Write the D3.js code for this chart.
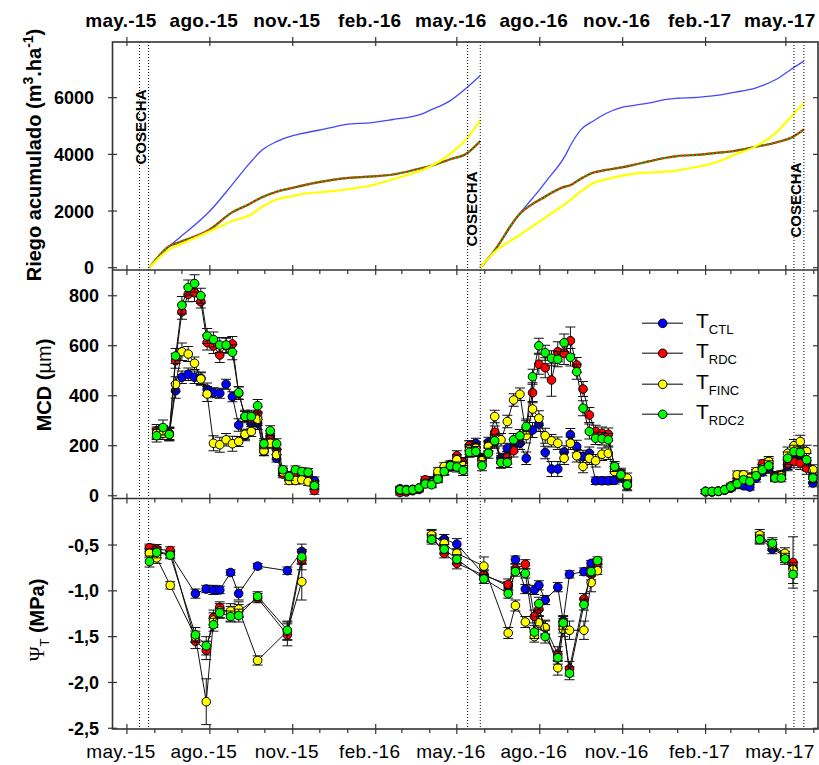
<!DOCTYPE html>
<html><head><meta charset="utf-8">
<script src="https://cdn.jsdelivr.net/npm/d3@7"></script>
<style>body{margin:0;background:#fff}svg{display:block;font-family:Arial,"Liberation Sans",sans-serif}</style>
</head><body><svg id="c" width="819" height="765"></svg>
<script>
// ---------------- DATA ----------------
const seriesNames = ["CTL","RDC","FINC","RDC2"];
const seriesColors = ["#0000ff","#ff0000","#ffff00","#00ff00"];
const monthTickLabels = ["may.-15","ago.-15","nov.-15","feb.-16","may.-16","ago.-16","nov.-16","feb.-17","may.-17"];
const riegoTicks = [0,2000,4000,6000];
const mcdTicks = [0,200,400,600,800];
const psiTicks = [-0.5,-1.0,-1.5,-2.0,-2.5];
const harvestDates = [["2015-05-15","2015-05-25"],["2016-05-13","2016-05-27"],["2017-05-10","2017-05-21"]];
const harvestLabel = "COSECHA";

// cumulative irrigation (m3/ha)
const riegoDates = ["2015-05-26","2015-06-17","2015-06-28","2015-08-01","2015-08-26","2015-09-14","2015-09-28","2015-10-14","2015-11-01","2015-11-09","2015-12-15","2015-12-30","2016-01-28","2016-02-20","2016-03-21","2016-04-01","2016-04-23","2016-05-12","2016-05-27",
"2016-05-27","2016-06-10","2016-07-11","2016-07-24","2016-08-04","2016-08-08","2016-08-30","2016-09-03","2016-09-16","2016-09-29","2016-10-14","2016-10-29","2016-11-12","2016-12-01","2016-12-19","2016-12-27","2016-12-31","2017-01-26","2017-01-29","2017-02-13","2017-03-03","2017-03-29","2017-04-20","2017-05-09","2017-05-21"];
const riegoCTL = [0,760,1050,2000,2940,3680,4150,4450,4660,4720,4950,5060,5120,5230,5400,5550,5880,6350,6780,
0,530,1960,2450,2880,3050,4000,4250,4880,5170,5450,5640,5720,5820,5940,5970,5980,6020,6030,6080,6180,6350,6640,7050,7290];
const riegoRDC = [0,760,900,1350,1960,2250,2490,2680,2820,2880,3100,3160,3220,3290,3500,3580,3820,4030,4470,
0,530,1940,2250,2450,2530,2870,2900,3150,3350,3450,3530,3620,3760,3880,3920,3940,3990,4000,4050,4110,4270,4420,4620,4880];
const riegoFINC = [0,645,800,1290,1650,1845,2150,2410,2530,2590,2700,2760,2910,3120,3410,3560,4000,4550,5200,
0,500,1180,1470,1700,1790,2270,2370,2700,2980,3120,3230,3310,3360,3390,3410,3430,3580,3600,3720,3960,4290,4760,5410,5800];
const riegoRDC2 = [0,760,900,1350,1960,2250,2490,2680,2820,2880,3100,3160,3220,3290,3500,3580,3820,4030,4470,
0,530,1940,2250,2450,2530,2870,2900,3150,3350,3450,3530,3620,3760,3880,3920,3940,3990,4000,4050,4110,4270,4420,4620,4880];

// MCD (µm), weekly
const mcdDates = ["2015-06-03","2015-06-10","2015-06-17","2015-06-24","2015-07-01","2015-07-08","2015-07-15","2015-07-22","2015-07-29","2015-08-05","2015-08-12","2015-08-19","2015-08-26","2015-09-02","2015-09-09","2015-09-16","2015-09-23","2015-09-30","2015-10-07","2015-10-14","2015-10-21","2015-10-28","2015-11-04","2015-11-11","2015-11-18","2015-11-25",
"2016-02-28","2016-03-06","2016-03-13","2016-03-20","2016-03-27","2016-04-03","2016-04-10","2016-04-17","2016-04-24","2016-05-01","2016-05-08","2016-05-15","2016-05-22","2016-05-29","2016-06-05","2016-06-12","2016-06-19","2016-06-26","2016-07-03","2016-07-10","2016-07-17","2016-07-24","2016-07-31","2016-08-07","2016-08-14","2016-08-21","2016-08-28","2016-09-04","2016-09-11","2016-09-18","2016-09-25","2016-10-02","2016-10-09","2016-10-16","2016-10-23","2016-10-30","2016-11-06",
"2017-02-01","2017-02-08","2017-02-15","2017-02-22","2017-03-01","2017-03-08","2017-03-15","2017-03-22","2017-03-29","2017-04-05","2017-04-12","2017-04-19","2017-04-26","2017-05-03","2017-05-10","2017-05-17","2017-05-24","2017-05-31"];
const mcdCTL = [250,255,248,420,474,486,474,470,426,412,410,446,396,283,240,290,290,177,240,150,95,75,88,80,71,60,
28,25,26,30,55,60,70,100,115,130,110,200,210,150,214,215,150,190,200,210,150,263,287,173,107,107,175,244,197,157,170,60,60,60,62,71,55,
15,15,17,22,30,45,40,35,70,95,110,75,80,120,150,165,120,51];
const mcdRDC = [260,260,250,540,736,806,812,776,613,599,563,600,607,410,317,310,330,200,230,184,87,80,81,85,80,21,
13,15,20,25,64,50,75,100,125,160,133,200,195,144,200,254,135,152,180,235,270,412,526,512,463,576,570,620,523,427,323,257,250,246,110,90,40,
17,16,18,24,35,60,70,75,90,128,130,80,85,130,137,130,111,75];
const mcdFINC = [250,250,245,446,576,567,530,467,407,210,204,224,208,217,246,257,306,180,210,164,95,61,61,64,56,45,
22,22,24,30,50,50,97,117,120,144,120,185,190,140,197,317,224,297,383,406,241,347,310,240,220,210,150,210,160,117,150,140,166,170,97,80,71,
18,17,19,25,40,84,84,70,97,110,137,75,80,170,200,217,177,104];
const mcdRDC2 = [240,273,245,559,762,833,849,800,639,625,603,603,574,412,317,317,360,208,260,208,104,77,104,97,94,40,
24,22,24,31,47,44,67,97,120,115,101,174,177,120,170,220,133,133,224,240,277,476,600,572,550,546,612,554,496,350,257,230,228,224,117,84,44,
17,17,18,24,35,48,64,57,80,104,120,71,71,150,177,173,144,71];
const mcdErrCTL = [20,20,25,30,25,25,25,25,25,20,20,20,20,25,20,20,25,15,20,15,15,15,15,15,15,15,
10,10,10,10,12,12,15,15,15,20,20,20,20,20,20,25,20,20,25,25,25,30,30,25,30,30,25,25,25,25,25,15,15,15,15,15,15,
8,8,8,8,10,12,12,12,15,15,20,15,15,20,20,25,20,15];
const mcdErrRDC = [25,20,25,30,30,30,35,25,30,30,30,30,30,25,20,25,25,20,20,20,15,15,15,15,15,15,
10,10,10,10,12,12,15,15,15,20,20,20,20,20,20,25,25,25,25,30,30,40,40,40,65,40,45,55,30,30,30,25,25,25,20,20,20,
8,8,8,8,10,12,12,12,15,15,20,15,15,25,25,25,25,20];
const mcdErrFINC = [25,25,25,30,35,30,25,25,30,30,30,25,30,20,20,20,25,20,20,20,15,15,15,15,15,15,
10,10,10,10,12,15,15,15,15,20,20,20,20,20,20,25,25,25,25,25,30,30,30,30,25,25,25,25,25,25,25,25,25,25,20,20,20,
8,8,8,8,10,15,15,12,15,15,20,15,15,25,25,25,25,20];
const mcdErrRDC2 = [25,30,25,30,35,30,35,30,30,30,30,30,30,25,25,25,25,20,20,20,15,15,15,15,15,15,
10,10,10,10,12,12,15,15,15,20,20,20,20,20,20,25,20,20,25,25,30,30,30,30,30,30,35,35,30,30,30,25,25,25,20,20,20,
8,8,8,8,10,12,12,12,15,15,20,15,15,25,25,25,25,20];

// Trunk water potential (MPa)
const psiDates = ["2015-05-26","2015-06-03","2015-06-18","2015-07-16","2015-07-28","2015-08-05","2015-08-12","2015-08-24","2015-09-02","2015-09-23","2015-10-26","2015-11-11",
"2016-04-03","2016-04-17","2016-05-01","2016-05-31","2016-06-27","2016-07-05","2016-07-16","2016-07-26","2016-07-31","2016-08-07","2016-08-21","2016-08-27","2016-09-03","2016-09-19","2016-09-27","2016-10-04",
"2017-04-02","2017-04-16","2017-04-30","2017-05-09"];
const psiCTL = [-0.55,-0.57,-0.60,-1.03,-0.98,-0.99,-0.99,-0.80,-1.03,-0.73,-0.78,-0.57,
-0.42,-0.435,-0.49,-0.82,-0.95,-0.66,-0.98,-0.99,-0.94,-1.10,-0.96,-1.33,-0.82,-0.79,-0.70,-0.68,
-0.42,-0.545,-0.62,-0.75];
const psiRDC = [-0.53,-0.545,-0.56,-1.55,-1.65,-1.29,-1.18,-1.25,-1.22,-1.08,-1.48,-0.67,
-0.40,-0.59,-0.70,-0.83,-0.93,-0.76,-0.71,-1.28,-1.20,-1.40,-1.69,-1.38,-1.85,-1.09,-0.82,-0.70,
-0.42,-0.50,-0.63,-0.69];
const psiFINC = [-0.59,-0.64,-0.94,-1.50,-2.21,-1.32,-1.22,-1.22,-1.20,-1.76,-1.44,-0.90,
-0.39,-0.48,-0.59,-0.73,-1.46,-1.16,-1.34,-1.50,-1.35,-1.40,-1.84,-1.42,-1.43,-1.43,-0.91,-0.78,
-0.39,-0.50,-0.59,-0.77];
const psiRDC2 = [-0.68,-0.58,-0.61,-1.48,-1.60,-1.37,-1.24,-1.28,-1.27,-1.06,-1.43,-0.63,
-0.44,-0.545,-0.655,-0.87,-1.03,-0.79,-0.81,-1.45,-1.14,-1.50,-1.73,-1.35,-1.90,-1.15,-0.79,-0.67,
-0.44,-0.48,-0.65,-0.82];
const psiErrCTL = [0.04,0.04,0.04,0.05,0.04,0.05,0.04,0.03,0.07,0.03,0.04,0.08,
0.05,0.05,0.06,0.05,0.05,0.04,0.05,0.05,0.05,0.05,0.05,0.06,0.04,0.04,0.03,0.03,
0.05,0.05,0.05,0.06];
const psiErrRDC = [0.04,0.05,0.04,0.08,0.10,0.08,0.06,0.08,0.07,0.05,0.12,0.10,
0.06,0.05,0.06,0.05,0.06,0.05,0.05,0.07,0.07,0.08,0.08,0.08,0.08,0.06,0.06,0.04,
0.06,0.06,0.06,0.28];
const psiErrFINC = [0.05,0.06,0.04,0.06,0.25,0.08,0.08,0.08,0.08,0.05,0.10,0.20,
0.06,0.06,0.05,0.10,0.06,0.06,0.06,0.06,0.07,0.07,0.08,0.08,0.10,0.10,0.10,0.04,
0.06,0.06,0.06,0.08];
const psiErrRDC2 = [0.06,0.06,0.04,0.08,0.10,0.07,0.05,0.06,0.07,0.05,0.10,0.08,
0.05,0.05,0.05,0.05,0.05,0.05,0.05,0.07,0.07,0.07,0.07,0.07,0.07,0.06,0.05,0.04,
0.05,0.06,0.06,0.10];

// ---------------- DRAWING ----------------
const svg = d3.select("#c");
const parse = d3.timeParse("%Y-%m-%d");
const L = 112.5, R = 818, T1 = 42, B1 = 270, B2 = 498.5, B3 = 729;
const x = d3.scaleTime().domain([new Date(2015,3,15), new Date(2017,5,5,16)]).range([L, R]);
const y1 = d3.scaleLinear().domain([-81, 7965]).range([B1, T1]);
const y2 = d3.scaleLinear().domain([-11, 903]).range([B2, B1]);
const y3 = d3.scaleLinear().domain([-2.508, 0.008]).range([B3, B2]);
const AX = "#333";

function splitSeg(pts, brk){ const segs=[]; let cur=[]; pts.forEach((p,i)=>{ if(i>0 && brk(pts[i-1],p)){ segs.push(cur); cur=[]; } cur.push(p); }); if(cur.length) segs.push(cur); return segs; }

// ---- top panel irrigation lines
const gTop = svg.append("g");
const topSeries = [
  {v:riegoCTL, c:"#4646ff", w:1.3, dash:null},
  {v:riegoRDC, c:"#ff0000", w:2.2, dash:null},
  {v:riegoRDC2, c:"#00c800", w:2.2, dash:"2,2"},
  {v:riegoFINC, c:"#ffff00", w:2.2, dash:null}
];
topSeries.forEach(s=>{
  const pts = riegoDates.map((d,i)=>({d:parse(d), v:s.v[i]}));
  const segs = splitSeg(pts,(a,b)=> b.v < a.v);
  const line = d3.line().x(p=>x(p.d)).y(p=>y1(p.v)).curve(d3.curveMonotoneX);
  segs.forEach(sg=> gTop.append("path").attr("d", line(sg)).attr("fill","none")
     .attr("stroke", s.c).attr("stroke-width", s.w).attr("stroke-dasharray", s.dash));
});

// ---- harvest dotted lines
harvestDates.forEach(pair=> pair.forEach(d=>{
  svg.append("line").attr("x1",x(parse(d))).attr("x2",x(parse(d))).attr("y1",T1).attr("y2",B3)
    .attr("stroke","#000").attr("stroke-width",1).attr("stroke-dasharray","1,2");
}));
const cosechaY = [127, 209, 200];
harvestDates.forEach((pair,i)=>{
  const xx = x(parse(pair[1])) - 3;
  svg.append("text").attr("transform",`translate(${xx},${cosechaY[i]}) rotate(-90)`)
    .attr("text-anchor","middle").attr("font-size",15).attr("font-weight","bold").text(harvestLabel);
});

// ---- series with markers & error bars
function drawSeries(g, dates, vals, errs, yS, color){
  const pts = dates.map((d,i)=>({d:parse(d), v:vals[i], e:errs[i]}));
  const segs = splitSeg(pts,(a,b)=> (b.d-a.d) > 45*864e5);
  const line = d3.line().x(p=>x(p.d)).y(p=>yS(p.v));
  segs.forEach(sg=> g.append("path").attr("d",line(sg)).attr("fill","none").attr("stroke","#111").attr("stroke-width",1));
  const eb = g.append("g").attr("stroke","#111").attr("stroke-width",1);
  pts.forEach(p=>{
    const cx = x(p.d), ya = yS(p.v+p.e), yb = yS(p.v-p.e);
    eb.append("line").attr("x1",cx).attr("x2",cx).attr("y1",ya).attr("y2",yb);
    eb.append("line").attr("x1",cx-5).attr("x2",cx+5).attr("y1",ya).attr("y2",ya);
    eb.append("line").attr("x1",cx-5).attr("x2",cx+5).attr("y1",yb).attr("y2",yb);
  });
  g.append("g").selectAll("circle").data(pts).join("circle")
    .attr("cx",p=>x(p.d)).attr("cy",p=>yS(p.v)).attr("r",4.3)
    .attr("fill",color).attr("stroke","#000").attr("stroke-width",1);
}
const gMcd = svg.append("g");
[[mcdCTL,mcdErrCTL],[mcdRDC,mcdErrRDC],[mcdFINC,mcdErrFINC],[mcdRDC2,mcdErrRDC2]].forEach((s,i)=>
  drawSeries(gMcd, mcdDates, s[0], s[1], y2, seriesColors[i]));
const gPsi = svg.append("g");
[[psiCTL,psiErrCTL],[psiRDC,psiErrRDC],[psiFINC,psiErrFINC],[psiRDC2,psiErrRDC2]].forEach((s,i)=>
  drawSeries(gPsi, psiDates, s[0], s[1], y3, seriesColors[i]));

// ---- frame
const fr = svg.append("g").attr("stroke",AX).attr("stroke-width",1.6).attr("fill","none");
fr.append("rect").attr("x",L).attr("y",T1).attr("width",R-L).attr("height",B3-T1);
fr.append("line").attr("x1",L).attr("x2",R).attr("y1",B1).attr("y2",B1);
fr.append("line").attr("x1",L).attr("x2",R).attr("y1",B2).attr("y2",B2);

// ---- x ticks
const months = d3.timeMonth.range(new Date(2015,4,1), new Date(2017,5,2));
const quarters = months.filter(m=> ((m.getMonth()-4)%3+3)%3===0);
const tk = svg.append("g").attr("stroke",AX).attr("stroke-width",1.2);
quarters.forEach(m=> tk.append("line").attr("x1",x(m)).attr("x2",x(m)).attr("y1",T1-5).attr("y2",T1+4));
[B1,B2,B3].forEach(yy=>{
  months.forEach(m=>{
    const major = quarters.some(q=>+q===+m);
    tk.append("line").attr("x1",x(m)).attr("x2",x(m)).attr("y1", major? yy-5 : yy).attr("y2", major? yy+5 : yy+4);
  });
});
quarters.forEach((m,i)=>{
  svg.append("text").attr("x",x(m)-6).attr("y",27).attr("text-anchor","middle")
    .attr("font-size",19).attr("font-weight","bold").attr("letter-spacing",0.3).text(monthTickLabels[i]);
  svg.append("text").attr("x",x(m)-6).attr("y",758).attr("text-anchor","middle")
    .attr("font-size",19).attr("letter-spacing",0.3).text(monthTickLabels[i]);
});

// ---- y ticks
function yTicks(vals, yS, lx, fmt){
  vals.forEach(v=>{
    const yy = yS(v);
    tk.append("line").attr("x1",L-4.5).attr("x2",L+4.5).attr("y1",yy).attr("y2",yy);
    tk.append("line").attr("x1",R-5).attr("x2",R).attr("y1",yy).attr("y2",yy);
    svg.append("text").attr("x",lx).attr("y",yy).attr("dy","0.36em").attr("text-anchor","end")
      .attr("font-size",18).attr("font-weight","bold").text(fmt(v));
  });
}
yTicks(riegoTicks, y1, 94, v=>String(v));
yTicks(mcdTicks, y2, 99, v=>String(v));
yTicks(psiTicks, y3, 99, v=>d3.format(".1f")(v).replace(".",",").replace("−","-"));

// ---- y titles
const t1 = svg.append("text").attr("transform","translate(41,155) rotate(-90)").attr("text-anchor","middle")
  .attr("font-size",20).attr("font-weight","bold");
t1.append("tspan").text("Riego acumulado (m");
t1.append("tspan").attr("dy",-8).attr("font-size",14).text("3");
t1.append("tspan").attr("dy",8).text(".ha");
t1.append("tspan").attr("dy",-8).attr("font-size",14).text("-1");
t1.append("tspan").attr("dy",8).text(")");

const t2 = svg.append("text").attr("transform","translate(51,385) rotate(-90)").attr("text-anchor","middle")
  .attr("font-size",20).attr("font-weight","bold");
t2.append("tspan").text("MCD (");
t2.append("tspan").attr("font-weight","normal").text("µm");
t2.append("tspan").text(")");

const t3 = svg.append("text").attr("transform","translate(44,620) rotate(-90)").attr("text-anchor","middle")
  .attr("font-size",20);
t3.append("tspan").attr("font-family","'Liberation Serif',serif").text("Ψ");
t3.append("tspan").attr("dy",5).attr("font-size",13).text("T");
t3.append("tspan").attr("dy",-5).attr("font-weight","bold").text(" (MPa)");

// ---- legend
const legRows = [323.3, 353.3, 384.3, 414.3];
const lg = svg.append("g");
seriesNames.forEach((n,i)=>{
  const yy = legRows[i];
  lg.append("line").attr("x1",642).attr("x2",683).attr("y1",yy).attr("y2",yy).attr("stroke","#555").attr("stroke-width",1.5);
  lg.append("circle").attr("cx",662.7).attr("cy",yy).attr("r",4.3).attr("fill",seriesColors[i]).attr("stroke","#000");
  const t = lg.append("text").attr("x",696).attr("y",yy+4.5).attr("font-size",21);
  t.append("tspan").text("T");
  t.append("tspan").attr("dy",6).attr("font-size",13).text(n);
});
</script></body></html>
